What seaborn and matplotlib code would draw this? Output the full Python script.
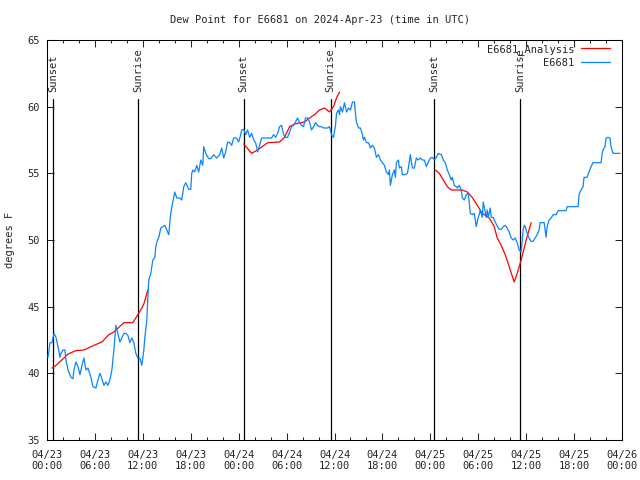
import pandas as pd
import seaborn as sns
import matplotlib
matplotlib.use('Agg')
import matplotlib.pyplot as plt
import matplotlib.dates as mdates
from matplotlib.lines import Line2D

start = pd.Timestamp("2024-04-23 00:00")
end = pd.Timestamp("2024-04-26 00:00")

# station obs: hours since 04/23 00:00 UTC, dew point in F
obs_hours = [0.125, 0.375, 0.625, 0.875, 1.125, 1.375, 1.625, 1.75, 2.0, 2.25, 2.375, 2.625, 3.0, 3.25, 3.375,
             3.625, 3.875, 4.125, 4.375, 4.625, 4.875, 5.125, 5.5, 5.75, 6.125, 6.375, 6.625, 6.875, 7.125, 7.375,
             7.625, 7.875, 8.125, 8.375, 8.625, 8.875, 9.125, 9.375, 9.625, 9.875, 10.125, 10.375, 10.625, 10.875,
             11.125, 11.375, 11.625, 11.875, 12.125, 12.25, 12.5, 12.625, 12.75, 13.0, 13.25, 13.5, 13.625, 13.75,
             14.0, 14.25, 14.5, 14.75, 15.0, 15.25, 15.375, 15.5, 15.75, 16.0, 16.25, 16.625, 16.875, 17.125,
             17.375, 17.75, 18.0, 18.125, 18.25, 18.5, 18.75, 19.0, 19.25, 19.5, 19.625, 19.875, 20.25, 20.5,
             20.875, 21.25, 21.625, 21.875, 22.125, 22.375, 22.625, 22.875, 23.125, 23.375, 23.75, 24.0, 24.25,
             24.375, 24.625, 24.875, 25.125, 25.375, 25.625, 25.875, 26.125, 26.375, 26.625, 26.875, 27.125,
             27.625, 28.125, 28.375, 28.625, 28.875, 29.125, 29.375, 29.625, 29.875, 30.125, 30.375, 30.625,
             30.875, 31.125, 31.375, 31.625, 31.875, 32.125, 32.375, 32.625, 32.875, 33.125, 33.375, 33.625,
             33.875, 34.125, 34.375, 34.625, 34.875, 35.125, 35.375, 35.625, 35.875, 36.125, 36.25, 36.5, 36.625,
             36.75, 37.0, 37.25, 37.5, 37.75, 38.0, 38.25, 38.5, 38.625, 38.75, 39.0, 39.25, 39.5, 39.625, 39.75,
             40.0, 40.25, 40.5, 40.75, 41.0, 41.25, 41.5, 41.75, 42.0, 42.25, 42.5, 42.75, 42.875, 43.0, 43.25,
             43.5, 43.625, 43.75, 44.0, 44.125, 44.375, 44.5, 44.875, 45.125, 45.25, 45.5, 45.75, 46.0, 46.25,
             46.5, 46.75, 47.0, 47.25, 47.5, 47.75, 48.0, 48.25, 48.5, 48.75, 49.0, 49.125, 49.375, 49.625,
             49.875, 50.125, 50.375, 50.625, 50.75, 51.0, 51.25, 51.375, 51.625, 51.875, 52.0, 52.25, 52.5,
             52.75, 52.875, 53.0, 53.25, 53.5, 53.625, 53.75, 54.0, 54.125, 54.25, 54.5, 54.625, 54.75, 55.0,
             55.125, 55.25, 55.5, 55.625, 55.875, 56.125, 56.375, 56.625, 56.875, 57.125, 57.375, 57.625, 57.875,
             58.125, 58.375, 58.625, 58.875, 59.125, 59.375, 59.625, 59.75, 59.875, 60.125, 60.375, 60.625,
             60.875, 61.125, 61.375, 61.625, 61.75, 62.0, 62.25, 62.5, 62.625, 62.875, 63.125, 63.375, 63.75,
             64.0, 65.0, 65.125, 66.5, 66.625, 66.875, 67.125, 67.25, 67.625, 67.875, 68.125, 68.375, 69.375,
             69.5, 69.625, 69.875, 70.0, 70.25, 70.5, 70.625, 70.875, 71.75]
obs_dew = [41.2, 42.3, 42.3, 43.0, 42.7, 42.0, 41.2, 41.5, 41.75, 41.75, 41.0, 40.25, 39.7, 39.6, 40.25,
           40.85, 40.5, 39.9, 40.6, 41.15, 40.25, 40.4, 39.7, 39.0, 38.9, 39.5, 40.0, 39.6, 39.1, 39.35,
           39.1, 39.5, 40.25, 41.75, 43.6, 43.0, 42.35, 42.65, 43.0, 43.0, 42.85, 42.3, 42.65, 42.3,
           41.5, 41.15, 41.15, 40.6, 41.75, 42.7, 44.0, 45.7, 47.0, 47.5, 48.5, 48.7, 49.5, 49.85,
           50.2, 50.9, 51.0, 51.1, 50.75, 50.4, 51.3, 52.0, 52.85, 53.6, 53.15, 53.15, 53.0, 54.0,
           54.3, 53.8, 53.8, 55.0, 55.25, 55.1, 55.6, 55.1, 56.0, 55.6, 57.0, 56.5, 56.1, 56.1,
           56.4, 56.15, 56.4, 56.9, 56.15, 56.6, 57.35, 57.3, 57.1, 57.65, 57.65, 57.35, 57.9,
           58.25, 58.3, 57.9, 58.25, 57.7, 58.0, 57.5, 57.3, 56.6, 57.1, 57.65, 57.65,
           57.65, 57.65, 57.9, 57.7, 58.0, 58.5, 58.6, 57.9, 57.7, 57.7, 58.1, 58.5,
           58.6, 58.85, 59.15, 58.8, 58.6, 58.5, 59.15, 59.15, 58.85, 58.25, 58.5, 58.8,
           58.6, 58.5, 58.5, 58.4, 58.4, 58.4, 58.5, 57.9, 57.7, 58.6, 59.5, 59.75, 59.4,
           60.0, 59.6, 60.3, 59.6, 59.9, 59.75, 60.35, 60.35, 59.5, 58.85, 58.4, 58.4, 57.9, 57.5, 57.7,
           57.3, 57.3, 56.9, 57.1, 56.9, 56.2, 56.4, 56.0, 55.8, 55.6, 55.1, 54.9, 55.25, 54.1, 54.9,
           55.25, 54.7, 55.8, 56.0, 55.4, 55.5, 54.9, 54.9, 55.0, 55.4, 56.4, 55.4, 55.4, 56.15,
           56.0, 56.15, 56.0, 56.0, 55.5, 55.85, 56.15, 56.2, 56.0, 56.2, 56.5, 56.45, 56.4, 56.0,
           55.8, 55.25, 54.9, 54.5, 54.7, 54.1, 54.0, 53.9, 54.1, 53.75, 53.15, 53.0, 53.4,
           53.5, 52.8, 52.0, 51.9, 52.0, 51.5, 51.0, 51.7, 51.9, 52.25, 51.7, 52.85, 52.5, 51.7,
           52.25, 51.7, 52.4, 51.7, 51.7, 51.35, 51.05, 50.8, 50.8, 51.0, 51.1, 50.9, 50.6,
           50.15, 50.0, 50.15, 49.8, 49.25, 49.1, 50.75, 51.1, 51.0, 50.5, 50.15, 49.9,
           49.9, 50.15, 50.4, 50.75, 51.3, 51.3, 51.3, 50.2, 51.0, 51.5, 51.65, 51.9, 51.9,
           52.2, 52.2, 52.5, 52.5, 53.4, 53.75, 54.0, 54.7, 54.7, 55.1, 55.5, 55.8, 55.8,
           56.4, 56.75, 57.0, 57.65, 57.7, 57.65, 57.0, 56.5, 56.5]

# analysis, three separate pieces
ana1_hours = [0.625, 1.125, 2.125, 2.625, 3.625, 4.625, 5.875, 6.875, 7.75, 8.375, 9.625, 10.5, 10.75,
              11.375, 11.875, 12.125, 12.625]
ana1_dew = [40.4, 40.6, 41.15, 41.45, 41.7, 41.75, 42.1, 42.35, 42.9, 43.1, 43.8, 43.8, 43.8,
            44.4, 44.9, 45.2, 46.25]
ana2_hours = [24.625, 25.625, 26.375, 27.625, 29.125, 29.75, 30.375, 31.0, 32.25, 32.875, 33.5, 34.125,
              34.75, 35.375, 35.875, 36.25, 36.625]
ana2_dew = [57.2, 56.5, 56.75, 57.3, 57.35, 57.7, 58.5, 58.7, 58.85, 59.15, 59.4, 59.75,
            59.9, 59.6, 60.0, 60.65, 61.1]
ana3_hours = [48.625, 49.125, 49.625, 50.125, 50.625, 52.0, 52.625, 53.25, 53.875, 54.5, 55.375, 56.0,
              56.375, 56.875, 57.375, 57.875, 58.5, 58.875, 59.375, 60.0, 60.625]
ana3_dew = [55.25, 55.0, 54.5, 54.0, 53.75, 53.75, 53.6, 53.2, 52.6, 52.0, 51.65, 51.0,
            50.15, 49.6, 48.9, 48.0, 46.85, 47.5, 48.5, 50.0, 51.3]

sun_hours = [0.75, 11.375, 24.625, 35.5, 48.5, 59.25]
sun_labels = ["Sunset", "Sunrise", "Sunset", "Sunrise", "Sunset", "Sunrise"]

blue = "#0a84ff"

def to_time(h):
    return start + pd.to_timedelta(h, unit="h")

df_obs = pd.DataFrame({"time": to_time(obs_hours), "dew": obs_dew})
df_ana = pd.concat([
    pd.DataFrame({"time": to_time(ana1_hours), "dew": ana1_dew, "seg": 1}),
    pd.DataFrame({"time": to_time(ana2_hours), "dew": ana2_dew, "seg": 2}),
    pd.DataFrame({"time": to_time(ana3_hours), "dew": ana3_dew, "seg": 3}),
])

sns.set_style("ticks")
plt.rcParams['font.family'] = ['DejaVu Sans Mono']
fs = 7.5

fig = plt.figure(figsize=(6.4, 4.8), dpi=100)
ax = fig.add_axes([47/640, 40/480, 575/640, 400/480])

for h, lab in zip(sun_hours, sun_labels):
    t = to_time(h)
    ax.axvline(t, ymin=0, ymax=0.853, color="black", lw=0.9, zorder=1)
    ax.text(t, 0.87, lab, transform=ax.get_xaxis_transform(), rotation=90,
            ha="center", va="bottom", fontsize=fs)

sns.lineplot(data=df_ana, x="time", y="dew", units="seg", estimator=None,
             color="red", lw=0.9, ax=ax, zorder=2)
sns.lineplot(data=df_obs, x="time", y="dew", estimator=None,
             color=blue, lw=0.9, ax=ax, zorder=3)

ax.set_xlim(start, end)
ax.set_ylim(35, 65)
ax.set_yticks(range(35, 66, 5))
ax.xaxis.set_major_locator(mdates.HourLocator(byhour=[0, 6, 12, 18]))
ax.xaxis.set_minor_locator(mdates.HourLocator(interval=2))
ax.xaxis.set_major_formatter(mdates.DateFormatter("%m/%d\n%H:%M"))
ax.set_xlabel("")
ax.set_ylabel("")
ax.tick_params(which="both", direction="in", top=True, right=True, labelsize=fs, width=0.75)
ax.tick_params(which="major", length=5)
ax.tick_params(which="minor", length=2.5)
ax.tick_params(axis="x", pad=7)
ax.tick_params(axis="y", pad=5)
for s in ax.spines.values():
    s.set_linewidth(0.75)
    s.set_color("black")

fig.text(0.5, 1 - 20/480, "Dew Point for E6681 on 2024-Apr-23 (time in UTC)",
         ha="center", va="center", fontsize=fs)
fig.text(10/640, 0.5, "degrees F", rotation=90, ha="center", va="center", fontsize=fs)

handles = [Line2D([], [], color="red", lw=0.9), Line2D([], [], color=blue, lw=0.9)]
ax.legend(handles, ["E6681_Analysis", "E6681"], loc="upper right",
          bbox_to_anchor=(563/575, 0.99), frameon=False, markerfirst=False,
          fontsize=fs, handlelength=2.8, handletextpad=0.6, labelspacing=0.25,
          borderpad=0, borderaxespad=0)

fig.savefig("out.png", dpi=100)
plt.close()
